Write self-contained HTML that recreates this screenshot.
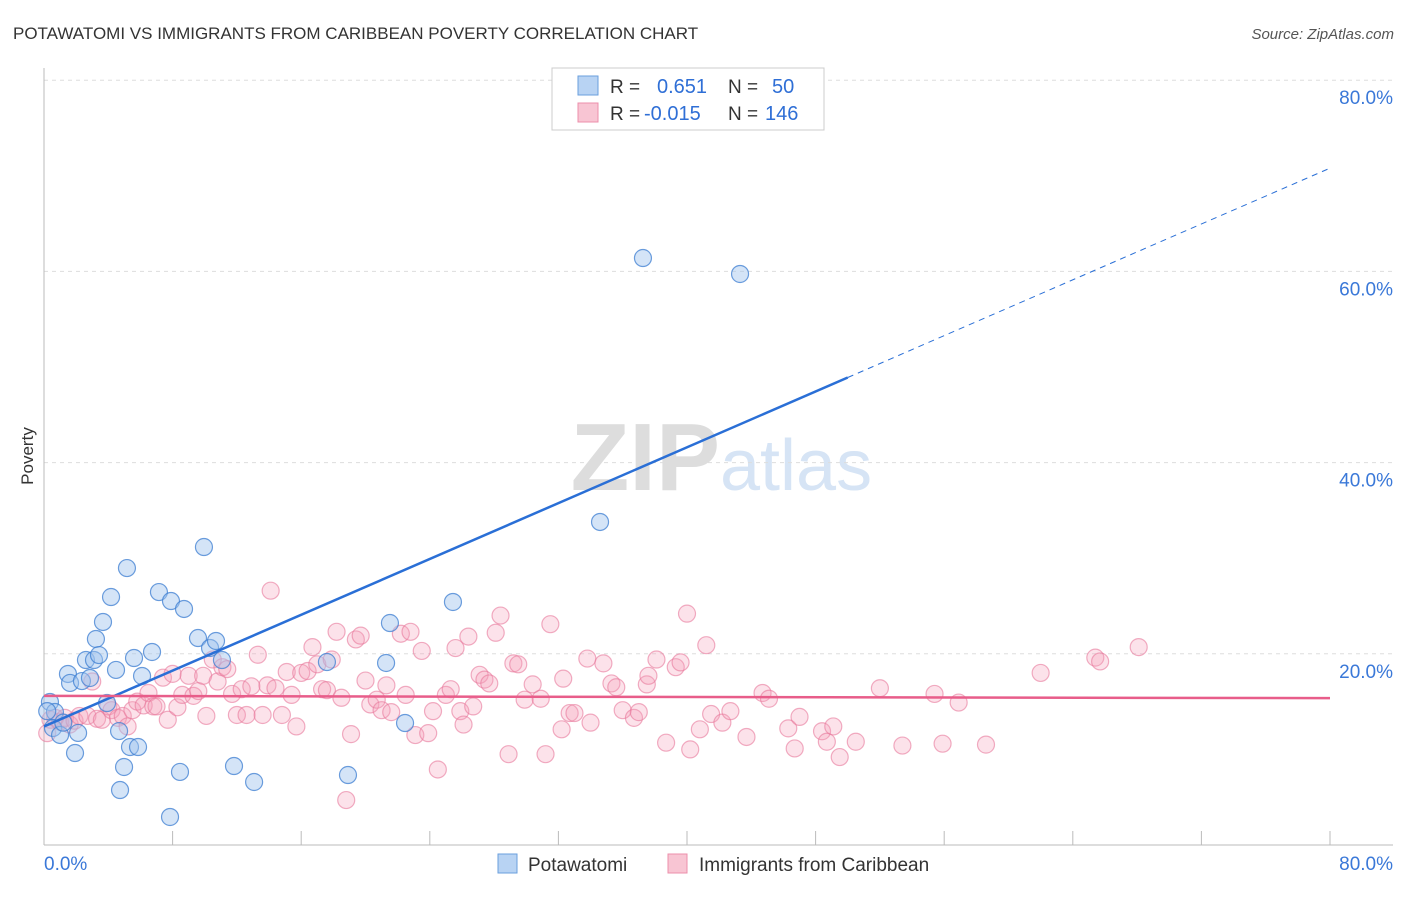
<!DOCTYPE html>
<html><head><meta charset="utf-8"><style>
body{margin:0;background:#fff;font-family:"Liberation Sans",sans-serif;}
svg text{font-family:"Liberation Sans",sans-serif;}
</style></head><body>
<svg id="chart" width="1406" height="892" xmlns="http://www.w3.org/2000/svg">
<text x="13" y="39" font-size="17" fill="#333">POTAWATOMI VS IMMIGRANTS FROM CARIBBEAN POVERTY CORRELATION CHART</text>
<text x="1394" y="39" font-size="15" fill="#555" text-anchor="end" font-style="italic">Source: ZipAtlas.com</text>
<text x="720" y="490" font-size="96" text-anchor="end" fill="#ddd" font-family="Liberation Serif" font-weight="bold">ZIP</text>
<text x="720" y="490" font-size="72" fill="#d6e4f5">atlas</text>
<text transform="translate(33,456) rotate(-90)" font-size="17" fill="#333" text-anchor="middle">Poverty</text>
<g id="grid"></g><g id="axes"></g><g id="pink"></g><g id="blue"></g><g id="trends"></g>
<g>
<rect x="552" y="68" width="272" height="62" fill="#fff" stroke="#ccc"/>
<rect x="578" y="76" width="20" height="19" fill="#b8d3f3" stroke="#6a9fde"/>
<rect x="578" y="103" width="20" height="19" fill="#f8c5d3" stroke="#ec8fab"/>
<text x="610" y="93" font-size="19" fill="#333">R =</text><text x="657" y="93" font-size="20" fill="#2f6fd6">0.651</text>
<text x="728" y="93" font-size="19" fill="#333">N =</text><text x="772" y="93" font-size="20" fill="#2f6fd6">50</text>
<text x="610" y="120" font-size="19" fill="#333">R =</text><text x="644" y="120" font-size="20" fill="#2f6fd6">-0.015</text>
<text x="728" y="120" font-size="19" fill="#333">N =</text><text x="765" y="120" font-size="20" fill="#2f6fd6">146</text>
</g>
<g>
<rect x="498" y="854" width="19" height="19" fill="#b8d3f3" stroke="#6a9fde"/>
<text x="528" y="871" font-size="19" fill="#333">Potawatomi</text>
<rect x="668" y="854" width="19" height="19" fill="#f8c5d3" stroke="#ec8fab"/>
<text x="699" y="871" font-size="19" fill="#333">Immigrants from Caribbean</text>
</g>
</svg>
<script>
const blueX=[0.37,0.68,0.56,1.0,1.49,1.62,1.93,2.12,2.36,2.61,2.86,3.11,3.23,3.42,3.67,3.92,4.17,4.48,4.67,4.73,4.98,5.16,5.35,5.6,5.85,6.1,6.72,7.15,7.84,7.9,8.46,8.71,9.58,9.95,10.33,10.7,11.07,11.82,13.07,17.6,18.91,21.28,21.52,22.46,25.44,34.59,37.26,43.3,0.2,1.2];
const blueY=[14.96,13.91,12.24,11.51,17.89,16.95,9.62,11.72,17.15,19.35,17.47,19.35,21.55,19.87,23.33,14.85,25.94,18.31,11.92,5.75,8.16,28.97,10.25,19.56,10.25,17.68,20.19,26.46,2.93,25.52,7.64,24.69,21.65,31.17,20.61,21.34,19.35,8.26,6.59,19.14,7.32,19.04,23.22,12.76,25.42,33.79,61.4,59.73,14.0,12.8];
const pinkX=[0.2,0.4,0.7,1.0,1.3,1.6,1.9,2.2,2.7,3.0,3.3,3.6,4.0,4.2,4.6,4.9,5.2,5.5,5.8,6.2,6.5,6.8,7.0,7.4,7.7,8.0,8.3,8.6,9.0,9.3,9.6,9.9,10.1,10.5,10.8,11.1,11.4,11.7,12.0,12.3,12.6,12.9,13.3,13.6,13.9,14.1,14.4,14.8,15.1,15.4,15.7,16.0,16.4,16.7,17.0,17.3,17.6,17.9,18.2,18.5,18.8,19.1,19.4,19.7,20.0,20.3,20.7,21.0,21.3,21.6,22.2,22.5,22.8,23.1,23.5,23.9,24.2,24.5,25.0,25.3,25.6,25.9,26.1,26.4,26.7,27.1,27.4,27.7,28.1,28.4,28.9,29.2,29.5,29.9,30.4,30.9,31.2,31.5,32.2,32.3,32.7,33.0,33.8,34.0,34.8,35.3,35.6,36.0,36.7,37.0,37.5,37.6,38.1,38.7,39.3,39.6,40.0,40.2,40.8,41.2,41.5,42.2,42.7,43.7,44.7,45.1,46.3,46.7,47.0,48.4,48.7,49.1,49.5,50.5,52.0,53.4,55.4,55.9,56.9,58.6,62.0,65.4,65.7,68.1];
const pinkY=[11.7,13.1,13.3,12.9,13.3,12.6,13.0,13.5,13.5,17.1,13.2,13.1,14.5,14.1,13.3,13.5,12.4,14.1,15.0,14.6,15.9,14.5,14.5,17.5,13.1,17.9,14.4,15.7,17.7,15.6,16.1,17.7,13.5,19.4,17.1,18.6,18.4,15.8,13.6,16.3,13.6,16.6,19.9,13.6,16.7,26.6,16.4,13.6,18.1,15.7,12.4,18.0,18.2,20.7,18.9,16.3,16.2,19.4,22.3,15.4,4.7,11.6,21.5,21.9,17.2,14.7,15.2,14.1,16.7,13.9,22.1,15.7,22.3,11.5,20.3,11.7,14.0,7.9,15.7,16.3,20.6,14.0,12.6,21.8,14.5,17.8,17.3,16.9,22.2,24.0,9.5,19.0,18.9,15.2,16.8,15.3,9.5,23.1,12.1,17.4,13.8,13.8,19.5,12.8,19.0,16.9,16.5,14.1,13.3,13.9,16.8,17.7,19.4,10.7,18.6,19.1,24.2,10.0,12.1,20.9,13.7,12.8,14.0,11.3,15.9,15.3,12.2,10.1,13.4,11.9,10.8,12.4,9.2,10.8,16.4,10.4,15.8,10.6,14.9,10.5,18.0,19.6,19.2,20.7];
const yTicks=[20,40,60,80];
const xTickVals=[0,8,16,24,32,40,48,56,64,72,80];
const blueTrend=[12.4,0.73]; // intercept, slope
const pinkTrend=[15.6,-0.003];
const NS="http://www.w3.org/2000/svg";
const sx=v=>44+v*16.075, sy=v=>845-v*9.56;
function mk(tag,attrs,parent){const e=document.createElementNS(NS,tag);for(const k in attrs)e.setAttribute(k,attrs[k]);document.getElementById(parent).appendChild(e);return e;}
yTicks.forEach(t=>{
 const l=mk('line',{x1:44,x2:1393,y1:sy(t),y2:sy(t),stroke:'#ddd','stroke-dasharray':'4,4'},'grid');
 
 
 const tx=mk('text',{x:1393,y:sy(t)+24,'font-size':19,fill:'#3a78d8','text-anchor':'end'},'grid');
 tx.textContent=t.toFixed(1)+'%';
 
 
});
const ax=mk('line',{x1:44,x2:1393,y1:845,y2:845,stroke:'#bbb'},'axes');


const ay=mk('line',{x1:44,x2:44,y1:68,y2:845,stroke:'#bbb'},'axes');


xTickVals.forEach(t=>{
 const l=mk('line',{x1:sx(t),x2:sx(t),y1:831,y2:845,stroke:'#bbb'},'axes');
 
 
});
[[0,'start'],[80,'end']].forEach(([t,a])=>{
 const tx=mk('text',{x:t===0?44:1393,y:870,'font-size':19,fill:'#3a78d8','text-anchor':a},'axes');
 tx.textContent=t.toFixed(1)+'%';
 
 
});
pinkX.forEach((x,i)=>{
 const c=mk('circle',{cx:sx(x),cy:sy(pinkY[i]),r:8.5,fill:'rgba(244,160,185,0.3)',stroke:'rgba(232,120,155,0.6)','stroke-width':1.2},'pink');
 
 
});
blueX.forEach((x,i)=>{
 const c=mk('circle',{cx:sx(x),cy:sy(blueY[i]),r:8.5,fill:'rgba(160,196,238,0.45)',stroke:'rgba(60,125,210,0.75)','stroke-width':1.2},'blue');
 
 
});
const bt=x=>blueTrend[0]+blueTrend[1]*x, pt=x=>pinkTrend[0]+pinkTrend[1]*x;
const b1=mk('line',{x1:sx(0),y1:sy(bt(0)),x2:sx(50),y2:sy(bt(50)),stroke:'#2a6fd6','stroke-width':2.5},'trends');


const b2=mk('line',{x1:sx(50),y1:sy(bt(50)),x2:sx(80),y2:sy(bt(80)),stroke:'#2a6fd6','stroke-width':1,'stroke-dasharray':'6,5'},'trends');


const p1=mk('line',{x1:sx(0),y1:sy(pt(0)),x2:sx(80),y2:sy(pt(80)),stroke:'#e85d8a','stroke-width':2.5},'trends');


</script>
</body></html>
